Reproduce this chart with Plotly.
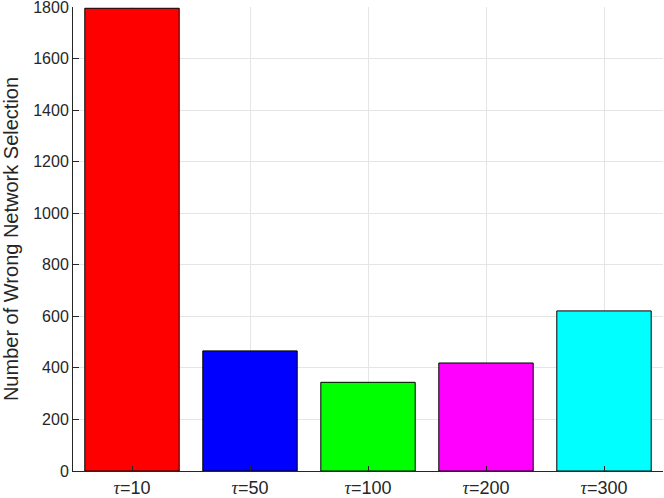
import plotly.graph_objects as go

categories = ["τ=10", "τ=50", "τ=100", "τ=200", "τ=300"]
tau = "<span style=\"font-family:'Liberation Serif'\"><i>τ</i></span>"
tick_text = [c.replace("τ", tau) for c in categories]
positions = [1, 2, 3, 4, 5]
values = [1795, 466, 344, 419, 621]
colors = ["#ff0000", "#0000ff", "#00ff00", "#ff00ff", "#00ffff"]
y_ticks = [0, 200, 400, 600, 800, 1000, 1200, 1400, 1600, 1800]

fig = go.Figure(go.Bar(
    x=positions, y=values, width=0.8,
    marker=dict(color=colors, line=dict(color="#000000", width=1)),
    showlegend=False,
))

axis_color = "#262626"
fig.update_layout(
    width=664, height=498,
    margin=dict(l=73, r=1, t=6.5, b=26.5, autoexpand=False),
    paper_bgcolor="white", plot_bgcolor="white",
    font=dict(family="Liberation Sans, Arial, sans-serif", size=16, color=axis_color),
    xaxis=dict(
        range=[0.5, 5.5], tickvals=positions, ticktext=tick_text,
        showgrid=True, gridcolor="#e5e5e5", gridwidth=1,
        showline=True, linecolor=axis_color, linewidth=1,
        ticks="inside", ticklen=5, tickcolor=axis_color,
        zeroline=False, tickfont=dict(size=18), automargin=False,
        ticklabeloverflow="allow",
    ),
    yaxis=dict(
        range=[0, 1800], tickvals=y_ticks,
        showgrid=True, gridcolor="#e5e5e5", gridwidth=1,
        showline=True, linecolor=axis_color, linewidth=1,
        ticks="inside", ticklen=6, tickcolor=axis_color,
        zeroline=False, tickfont=dict(size=16), automargin=False,
        ticklabeloverflow="allow",
        title=dict(text="Number of Wrong Network Selection", font=dict(size=20), standoff=14),
    ),
)

fig.write_html(
    "out.html",
    config={"displayModeBar": False},
    post_script="document.body.style.margin='0';document.body.style.overflow='hidden';",
)
